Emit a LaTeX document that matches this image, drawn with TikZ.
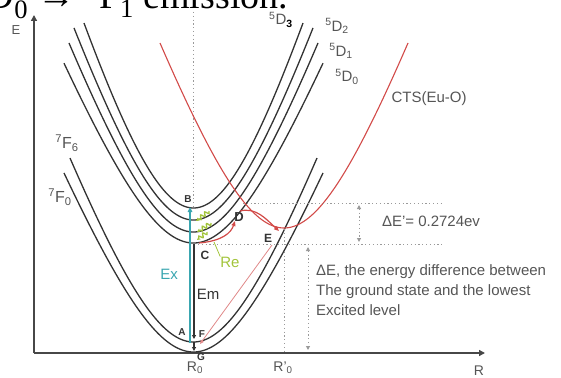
\documentclass[tikz,border=0pt]{standalone}
\usepackage{fontspec}
\setmainfont{Liberation Sans}
\newfontfamily\capserif{Liberation Serif}
\usetikzlibrary{arrows.meta,decorations.pathmorphing}
\definecolor{curvec}{HTML}{333333}
\definecolor{ctsred}{HTML}{D24A48}
\definecolor{pinkred}{HTML}{E08A8A}
\definecolor{exc}{HTML}{3AA6B0}
\definecolor{reg}{HTML}{A2C43A}
\definecolor{txtg}{HTML}{555555}
\definecolor{dotg}{HTML}{9A9A9A}
\begin{document}
\begin{tikzpicture}[x=1pt,y=-1pt,
  declare function={hh(\d,\s)=\s*80*(sqrt(1+(\d/80)*(\d/80))-1);},
  curve/.style={draw=curvec, line width=1.3pt},
  ctsline/.style={draw=ctsred, line width=1.1pt},
  dotline/.style={draw=dotg, line width=1pt, dash pattern=on 1.2pt off 2.6pt},
  axisline/.style={draw=curvec!90, line width=1.4pt},
  lbl/.style={font=\fontsize{15}{18}\selectfont, text=txtg, inner sep=0pt},
  ptl/.style={font=\fontsize{10}{12}\selectfont\bfseries, text=curvec, inner sep=0pt},
  smalltip/.style={-{Triangle[length=4pt,width=4pt]}},
  relax/.style={draw=reg, line width=1.3pt, decorate, decoration={snake, amplitude=2pt, segment length=5pt, post length=2pt}, -{Stealth[length=3.5pt,width=3.5pt]}}]
\useasboundingbox (0,0) rectangle (561,377);

% clipped caption at the top
\node[anchor=base west, inner sep=0pt, font=\capserif\fontsize{38}{40}\selectfont, text=black] (cap) at (-27,9)
  {\smash{\textsuperscript{5}D\textsubscript{0} → \textsuperscript{7}F\textsubscript{1} emission.}};

% axes
\coordinate (orig) at (34,353);
\coordinate (etip) at (34,15);
\coordinate (rtip) at (485,353);
\draw[axisline, -{Triangle[length=6pt,width=6pt]}] (orig) -- (etip);
\draw[axisline, -{Triangle[length=6pt,width=6pt]}] (orig) -- (rtip);
\node[font=\fontsize{13}{15}\selectfont, text=txtg, inner sep=0pt] (elab) at (16,30) {E};
\node[font=\fontsize{14}{16}\selectfont, text=txtg, inner sep=0pt] (rlab) at (479,371) {R};
\node[lbl, font=\fontsize{14}{16}\selectfont] (r0) at (195,368) {R\textsubscript{0}};
\node[lbl, font=\fontsize{14}{16}\selectfont] (r0p) at (283,368) {R'\textsubscript{0}};

% vertical dotted guide at R0
\coordinate (gtop) at (193,12);
\coordinate (gbot) at (193,206);
\draw[dotline] (gtop) -- (gbot);

% potential curves 5D3, 5D2, 5D1, 5D0, 7F6, 7F0
\foreach \m/\s/\d in {208/3.326/109.5, 220/3.01/119.5, 232/2.78/124.5, 243/2.49/129.5, 342/2.74/123.5, 352/2.479/129.5}
  \draw[curve] plot[domain=-\d:\d, samples=101, smooth] ({193.5+\x},{\m-hh(\x,\s)});

% CTS curve
\draw[ctsline] plot[domain=-124:124, samples=101, smooth] ({284+\x},{228-hh(\x,2.738)});

% dotted guides
\coordinate (hu1) at (243,203);
\coordinate (hu2) at (443,203);
\coordinate (hl1) at (198,244);
\coordinate (hl2) at (443,244);
\draw[dotline] (hu1) -- (hu2);
\draw[dotline] (hl1) -- (hl2);
\coordinate (rp1) at (284,229);
\coordinate (rp2) at (284,352);
\draw[dotline] (rp1) -- (rp2);
\coordinate (da1) at (359,205);
\coordinate (da2) at (359,242);
\draw[dotline, {Triangle[length=4pt,width=4pt]}-{Triangle[length=4pt,width=4pt]}] (da1) -- (da2);
\coordinate (db1) at (308,247);
\coordinate (db2) at (308,350);
\draw[dotline, {Triangle[length=4pt,width=4pt]}-{Triangle[length=4pt,width=4pt]}] (db1) -- (db2);

% level labels
\node[lbl] (l5d3) at (281,20) {\textsuperscript{5}D\textsubscript{\textbf{\color{black}3}}};
\node[lbl] (l5d2) at (337,26) {\textsuperscript{5}D\textsubscript{2}};
\node[lbl] (l5d1) at (341,51) {\textsuperscript{5}D\textsubscript{1}};
\node[lbl] (l5d0) at (347,77) {\textsuperscript{5}D\textsubscript{0}};
\node[lbl] (lcts) at (429,99) {CTS(Eu-O)};
\node[lbl, font=\fontsize{16}{18}\selectfont] (l7f6) at (67,143) {\textsuperscript{7}F\textsubscript{6}};
\node[lbl, font=\fontsize{16}{18}\selectfont] (l7f0) at (60,197) {\textsuperscript{7}F\textsubscript{0}};
\node[lbl] (lde1) at (431,221) {ΔE'= 0.2724ev};
\node[lbl, anchor=north west, align=left, font=\fontsize{15}{20}\selectfont] (lde) at (316,264)
  {ΔE, the energy difference between\\The ground state and the lowest\\Excited level};

% point labels
\node[ptl] (pA) at (182,332) {A};
\node[ptl] (pB) at (188,199) {B};
\node[ptl, font=\fontsize{12}{14}\selectfont\bfseries] (pC) at (205,255) {C};
\node[ptl, font=\fontsize{13}{15}\selectfont\bfseries] (pD) at (239,217) {D};
\node[ptl, font=\fontsize{12}{14}\selectfont\bfseries] (pE) at (268,238) {E};
\node[ptl] (pF) at (202,334) {F};
\node[ptl] (pG) at (201,357) {G};

% Ex (excitation) and Em (emission)
\coordinate (exb) at (190,343);
\coordinate (ext) at (190,207);
\draw[draw=exc, line width=1.8pt, -{Triangle[length=5pt,width=4.5pt]}] (exb) -- (ext);
\node[lbl, text=exc] (lex) at (169,274) {Ex};
\coordinate (emt) at (194,244);
\coordinate (emb) at (194,339);
\draw[draw=curvec, line width=1.4pt, smalltip] (emt) -- (emb);
\coordinate (gt) at (194,342);
\coordinate (gb) at (194,351);
\draw[draw=curvec, line width=1.2pt, smalltip] (gt) -- (gb);
\node[lbl, text=curvec] (lem) at (208,294) {Em};

% relaxation (green)
\coordinate (r1a) at (209,211);
\coordinate (r1b) at (196,221);
\coordinate (r2a) at (211,223);
\coordinate (r2b) at (197,232);
\coordinate (r3a) at (207,232);
\coordinate (r3b) at (197,240);
\draw[relax] (r1a) -- (r1b);
\draw[relax] (r2a) -- (r2b);
\draw[relax] (r3a) -- (r3b);
\node[lbl, text=reg] (lre) at (230,262) {Re};
\coordinate (rel) at (214,242);
\draw[draw=reg, line width=0.8pt] (lre.north west) -- (rel);

% red transfer arrows
\coordinate (cst) at (199,243);
\coordinate (dend) at (235,221);
\draw[draw=ctsred, line width=1.2pt, -{Triangle[length=5pt,width=4pt]}] (cst) .. controls (222,241) and (231,233) .. (dend);
\coordinate (dst) at (240,211);
\coordinate (eend) at (279,231);
\draw[draw=ctsred, line width=1.2pt, -{Triangle[length=5pt,width=4pt]}] (dst) .. controls (256,207) and (266,219) .. (eend);
\coordinate (est) at (272,245);
\coordinate (fend) at (200,344);
\draw[draw=pinkred, line width=0.8pt, -{Triangle[length=4pt,width=3.5pt]}] (est) -- (fend);
\end{tikzpicture}
\end{document}
